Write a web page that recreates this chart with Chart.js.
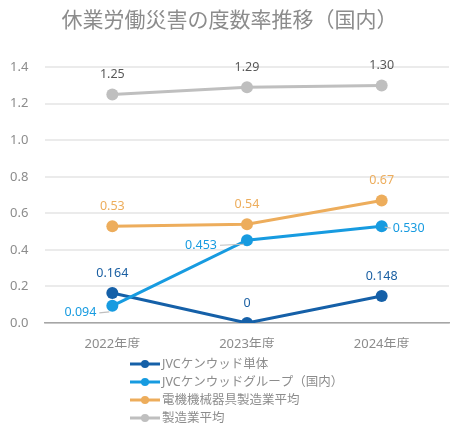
<!DOCTYPE html>
<html>
<head>
<meta charset="utf-8">
<script src="https://cdn.jsdelivr.net/npm/chart.js@4"></script>
<style>
  body { margin: 0; background: #fff; }
</style>
</head>
<body>
<canvas id="chart" width="467" height="427"></canvas>
<script>
const years = ["2022年度", "2023年度", "2024年度"];
const seriesNames = ["JVCケンウッド単体", "JVCケンウッドグループ（国内）", "電機機械器具製造業平均", "製造業平均"];
const jvcSingle = [0.164, 0, 0.148];
const jvcGroup = [0.094, 0.453, 0.530];
const electricAvg = [0.53, 0.54, 0.67];
const manufAvg = [1.25, 1.29, 1.30];
const yTicks = [0, 0.2, 0.4, 0.6, 0.8, 1.0, 1.2, 1.4];

const FONT = '"Noto Sans", "Noto Sans CJK JP", sans-serif';
const colors = ["#1560A8", "#179BE0", "#EDAD5C", "#BFBFBF"];
const labelColors = ["#1A5FA2", "#179BE0", "#EDAD5C", "#595959"];
const digits = [3, 3, 2, 2];
// where each label goes: t = above, l = left with leader, r = right with leader
const labelPos = [
	["t", "t", "t"],
	["l", "l", "r"],
	["t", "t", "t"],
	["t", "t", "t"],
];

function fmt(v, d) {
	if (v === 0) return "0";
	return v.toFixed(d);
}

const valueLabels = {
	id: "valueLabels",
	afterDatasetsDraw(chart) {
		const ctx = chart.ctx;
		ctx.save();
		ctx.font = "12.5px " + FONT;
		chart.data.datasets.forEach((ds, i) => {
			const meta = chart.getDatasetMeta(i);
			meta.data.forEach((pt, j) => {
				let txt = fmt(ds.data[j], digits[i]);
				let p = labelPos[i][j];
				ctx.fillStyle = labelColors[i];
				ctx.textBaseline = "middle";
				if (p == "t") {
					ctx.textAlign = "center";
					ctx.fillText(txt, pt.x, pt.y - 20);
				} else if (p == "l") {
					let lineLen = j == 0 ? 10 : 24;
					ctx.strokeStyle = "#BFBFBF";
					ctx.lineWidth = 1.2;
					ctx.beginPath();
					ctx.moveTo(pt.x - 3, pt.y + (j == 0 ? 6 : 4));
					ctx.lineTo(pt.x - 3 - lineLen, pt.y + (j == 0 ? 7 : 5));
					ctx.stroke();
					ctx.textAlign = "right";
					ctx.fillText(txt, pt.x - 6 - lineLen, pt.y + (j == 0 ? 7 : 5));
				} else {
					ctx.strokeStyle = "#BFBFBF";
					ctx.lineWidth = 1.2;
					ctx.beginPath();
					ctx.moveTo(pt.x + 3, pt.y + 1);
					ctx.lineTo(pt.x + 9, pt.y + 2);
					ctx.stroke();
					ctx.textAlign = "left";
					ctx.fillText(txt, pt.x + 11, pt.y + 2);
				}
			});
		});
		ctx.restore();
	},
};

const sideLegend = {
	id: "sideLegend",
	afterDraw(chart) {
		const ctx = chart.ctx;
		ctx.save();
		ctx.font = "12.5px " + FONT;
		ctx.textBaseline = "middle";
		ctx.textAlign = "left";
		chart.data.datasets.forEach((ds, i) => {
			let y = 364 + i * 18;
			ctx.strokeStyle = colors[i];
			ctx.lineWidth = 3;
			ctx.beginPath();
			ctx.moveTo(130, y);
			ctx.lineTo(160, y);
			ctx.stroke();
			ctx.fillStyle = colors[i];
			ctx.beginPath();
			ctx.arc(145, y, 4, 0, Math.PI * 2);
			ctx.fill();
			ctx.fillStyle = "#8C8C8C";
			ctx.fillText(ds.label, 162, y);
		});
		ctx.restore();
	},
};

const allSeries = [jvcSingle, jvcGroup, electricAvg, manufAvg];
let datasets = [];
for (let i = 0; i < allSeries.length; i++) {
	datasets.push({
		label: seriesNames[i],
		data: allSeries[i],
		borderColor: colors[i],
		backgroundColor: colors[i],
		borderWidth: 3,
		pointRadius: 6,
		pointHoverRadius: 6,
		pointBorderWidth: 0,
		order: 4 - i,
	});
}

new Chart("chart", {
	type: "line",
	data: { labels: years, datasets: datasets },
	options: {
		responsive: false,
		animation: false,
		layout: { padding: { left: 10, right: 18, top: 0, bottom: 79 } },
		plugins: {
			legend: { display: false },
			tooltip: { enabled: false },
			title: {
				display: true,
				text: "休業労働災害の度数率推移（国内）",
				color: "#8C8C8C",
				font: { family: FONT, size: 21, weight: "normal" },
				padding: { top: 8, bottom: 34 },
			},
		},
		scales: {
			x: {
				offset: true,
				grid: { display: false },
				border: { color: "#A6A6A6", width: 1.5 },
				ticks: { color: "#8C8C8C", font: { family: FONT, size: 13 }, padding: 5 },
				afterFit: (s) => { s.height = 25; },
			},
			y: {
				min: 0,
				max: 1.4,
				afterBuildTicks: (s) => { s.ticks = yTicks.map((v) => ({ value: v })); },
				grid: { color: "#EBEBEB", lineWidth: 2, drawTicks: false },
				border: { display: false },
				ticks: {
					color: "#8C8C8C",
					font: { family: FONT, size: 13 },
					crossAlign: "far",
					padding: 10,
					callback: (v) => v.toFixed(1),
				},
				afterFit: (s) => { s.width = 35; },
			},
		},
	},
	plugins: [valueLabels, sideLegend],
});
</script>
</body>
</html>
